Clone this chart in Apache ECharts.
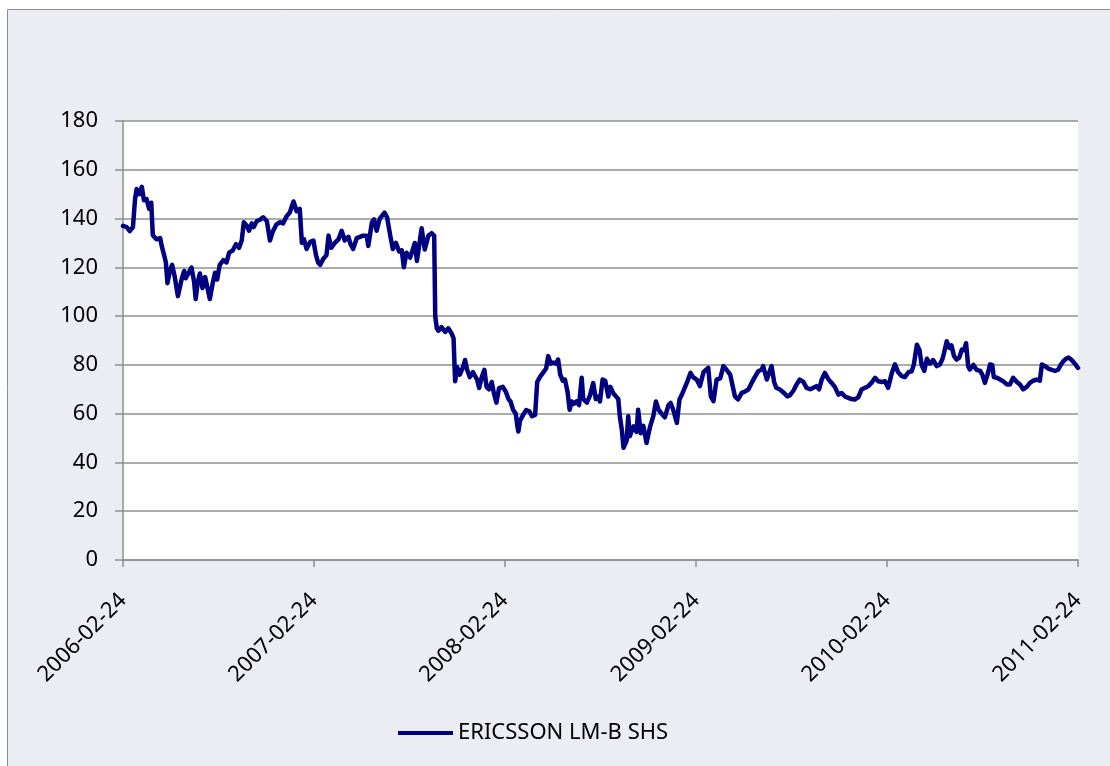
<!DOCTYPE html>
<html>
<head>
<meta charset="utf-8">
<script src="https://cdn.jsdelivr.net/npm/echarts@6/dist/echarts.min.js"></script>
<style>
  html, body { margin: 0; padding: 0; background: #fff; }
  #main { width: 1110px; height: 766px; }
</style>
</head>
<body>
<div id="main"></div>
<script>
// days after 2006-02-24
var days = [
  0, 2, 7, 13, 19, 23, 26, 31, 36, 40,
  45, 50, 54, 57, 64, 71, 74, 78, 82, 85,
  90, 94, 99, 105, 108, 112, 117, 120, 125, 131,
  136, 139, 143, 147, 152, 157, 161, 166, 172, 176,
  180, 185, 192, 198, 203, 210, 216, 222, 227, 231,
  237, 241, 246, 250, 256, 262, 268, 275, 281, 286,
  293, 300, 306, 313, 319, 326, 332, 338, 342, 346,
  351, 358, 364, 369, 373, 377, 383, 389, 393, 398,
  405, 412, 418, 424, 431, 435, 440, 447, 453, 459,
  466, 469, 476, 480, 485, 491, 500, 505, 511, 516,
  522, 528, 533, 537, 542, 549, 555, 558, 562, 567,
  571, 577, 584, 590, 595, 597, 600, 603, 609, 616,
  622, 628, 632, 635, 639, 644, 650, 654, 658, 663,
  669, 673, 677, 681, 686, 691, 695, 700, 705, 709,
  714, 719, 726, 732, 737, 741, 746, 751, 754, 756,
  759, 765, 771, 777, 782, 788, 792, 797, 804, 809,
  813, 818, 823, 828, 832, 836, 841, 845, 850, 854,
  858, 862, 867, 872, 877, 880, 887, 893, 899, 904,
  909, 912, 917, 922, 928, 932, 937, 943, 947, 950,
  954, 957, 960, 963, 966, 969, 976, 982, 985, 990,
  995, 1001, 1008, 1014, 1019, 1024, 1030, 1036, 1043, 1047,
  1052, 1059, 1064, 1070, 1078, 1085, 1090, 1097, 1103, 1110,
  1115, 1119, 1124, 1129, 1135, 1142, 1148, 1154, 1161, 1166,
  1170, 1176, 1183, 1189, 1196, 1202, 1208, 1215, 1221, 1224,
  1231, 1240, 1245, 1249, 1256, 1264, 1270, 1275, 1282, 1288,
  1294, 1301, 1307, 1314, 1320, 1326, 1331, 1336, 1342, 1349,
  1355, 1361, 1368, 1374, 1380, 1387, 1393, 1399, 1406, 1412,
  1419, 1425, 1431, 1438, 1444, 1451, 1457, 1463, 1470, 1476,
  1482, 1489, 1495, 1502, 1508, 1512, 1518, 1523, 1527, 1532,
  1537, 1543, 1549, 1556, 1562, 1567, 1570, 1575, 1580, 1584,
  1589, 1594, 1599, 1604, 1608, 1612, 1616, 1619, 1626, 1632,
  1639, 1643, 1648, 1653, 1658, 1662, 1665, 1671, 1677, 1683,
  1690, 1696, 1702, 1709, 1715, 1721, 1728, 1734, 1740, 1747,
  1753, 1757, 1763, 1769, 1776, 1782, 1788, 1793, 1798, 1803,
  1808, 1814, 1820, 1826
];

var prices = [
  137, 137.7, 136.5, 134.9, 136.5, 148, 152.1, 150, 153, 147.5,
  148, 144, 146.5, 133.2, 131.5, 132, 128.8, 125.5, 122, 113.5,
  119, 121, 116, 108.2, 107.5, 115, 118.5, 115.5, 117.5, 119.9,
  114, 107, 114, 117.5, 111.5, 116, 112, 107, 114, 117.8,
  115, 121, 123, 122, 126, 127, 129.5, 128, 131, 138.5,
  137, 135, 138, 136.5, 139, 139.5, 140.5, 139, 131, 134.5,
  137.5, 138.5, 138, 141, 142.5, 147, 143, 144, 130, 131.5,
  127.5, 130.5, 131, 125, 122, 121, 123.5, 125, 133, 128,
  130, 131.5, 135, 131, 132.5, 129.5, 127.5, 132, 132.5, 133,
  133, 128.8, 138.5, 139.7, 135, 140, 142.4, 140.5, 133, 127.5,
  130, 126.5, 127, 120, 126, 124, 128, 130, 122.6, 130,
  136, 127.3, 133, 134, 133, 100, 95, 94, 95.5, 93.5,
  95, 93, 91, 73.3, 79, 76, 79, 82, 78, 75,
  77, 75.5, 74, 70.5, 75, 78, 71, 70, 73, 68.5,
  64.5, 70.5, 71, 69, 66, 65, 61.5, 60, 55, 52.7,
  57, 59.5, 61.5, 61, 59, 59.5, 73, 75, 77, 78.5,
  83.6, 80.5, 81, 80.5, 82.2, 76, 73.5, 74, 69, 61.6,
  65, 64, 65, 63.5, 74.7, 66, 64.5, 67.5, 72.6, 66,
  67, 65, 74, 73.5, 67, 71, 68.5, 67, 66, 58.9,
  53, 46, 45.3, 49, 58.9, 50.7, 54.8, 52.5, 61.6, 52,
  55, 48, 54.8, 59, 65, 61.6, 60, 58.5, 63.5, 64.4,
  61.6, 56.2, 65.8, 68.5, 72.6, 76.7, 75, 74, 71.3, 77,
  78, 78.8, 67.1, 65.1, 74, 74.5, 79.5, 78, 76, 71,
  67.1, 65.8, 68.5, 69, 70, 72.6, 75, 77.5, 78, 79.5,
  74, 79.5, 73, 70.6, 69.9, 68.5, 67.1, 67.5, 69.5, 72,
  74, 73, 70.6, 70, 70.6, 71.3, 70, 74, 76.7, 74,
  72.6, 71, 67.8, 68.5, 67.1, 66.5, 66, 65.8, 66.8, 69.9,
  70.6, 71.3, 72.6, 74.7, 73.3, 73, 73.3, 70.6, 76.7, 80.2,
  77, 75.4, 75, 77, 77.4, 80, 88.3, 86, 80, 77.5,
  82.5, 80.5, 82, 79.5, 80.2, 82.5, 85, 89.7, 87, 88,
  83.6, 82.2, 83, 86.3, 86, 88.9, 79.5, 78.1, 80, 78,
  77.5, 76, 72.6, 76, 80.2, 80, 75, 74.7, 74, 73.3,
  72, 72, 74.7, 73, 72, 70, 71, 72.6, 73.5, 74,
  73.5, 80.2, 79.5, 78.5, 78, 77.5, 78, 80, 81.5, 82.5,
  83, 82, 80.5, 78.8
];

var tickDays = [0, 365, 730, 1096, 1461, 1826];
var tickLabels = ['2006-02-24', '2007-02-24', '2008-02-24', '2009-02-24', '2010-02-24', '2011-02-24'];

var chartDom = document.getElementById('main');
var myChart = echarts.init(chartDom);

var gridGray = '#8f8f8f';
var lineColor = '#000080';
var font = 'Noto Sans';

var option = {
    animation: false,
    graphic: [{
        type: 'rect',
        z: -10,
        shape: { x: 7.5, y: 9.5, width: 1200, height: 900 },
        style: { fill: '#ecedf3', stroke: '#8c8c8c', lineWidth: 1 }
    }],
    legend: {
        left: 398,
        top: 722,
        padding: 0,
        icon: 'rect',
        itemWidth: 55,
        itemHeight: 4,
        itemStyle: { color: lineColor },
        textStyle: { fontFamily: font, fontSize: 22, color: '#000' },
        data: ['ERICSSON LM-B SHS']
    },
    grid: {
        left: 123,
        top: 121,
        width: 955,
        height: 439,
        show: true,
        backgroundColor: '#fff',
        borderWidth: 0
    },
    xAxis: {
        type: 'value',
        min: 0,
        max: 1826,
        axisLine: { show: true, lineStyle: { color: gridGray, width: 1.5 } },
        axisTick: { show: true, length: 7, customValues: tickDays, lineStyle: { color: gridGray, width: 1.5 } },
        splitLine: { show: false },
        axisLabel: {
            customValues: tickDays,
            rotate: 45,
            margin: 37,
            fontFamily: font,
            fontSize: 22,
            color: '#000',
            formatter: function (v) {
                var i = tickDays.indexOf(v);
                return i >= 0 ? tickLabels[i] : '';
            }
        }
    },
    yAxis: {
        type: 'value',
        min: 0,
        max: 180,
        interval: 20,
        axisLine: { show: true, lineStyle: { color: gridGray, width: 1.5 } },
        axisTick: { show: true, length: 8, lineStyle: { color: gridGray, width: 1.5 } },
        splitLine: { show: true, lineStyle: { color: gridGray, width: 1.5 } },
        axisLabel: { margin: 25, fontFamily: font, fontSize: 22, color: '#000' }
    },
    series: [{
        name: 'ERICSSON LM-B SHS',
        type: 'line',
        symbol: 'none',
        showSymbol: false,
        lineStyle: { color: lineColor, width: 4.5, join: 'round', cap: 'round' },
        itemStyle: { color: lineColor },
        data: days.map(function (d, i) { return [d, prices[i]]; })
    }]
};

myChart.setOption(option);
</script>
</body>
</html>
